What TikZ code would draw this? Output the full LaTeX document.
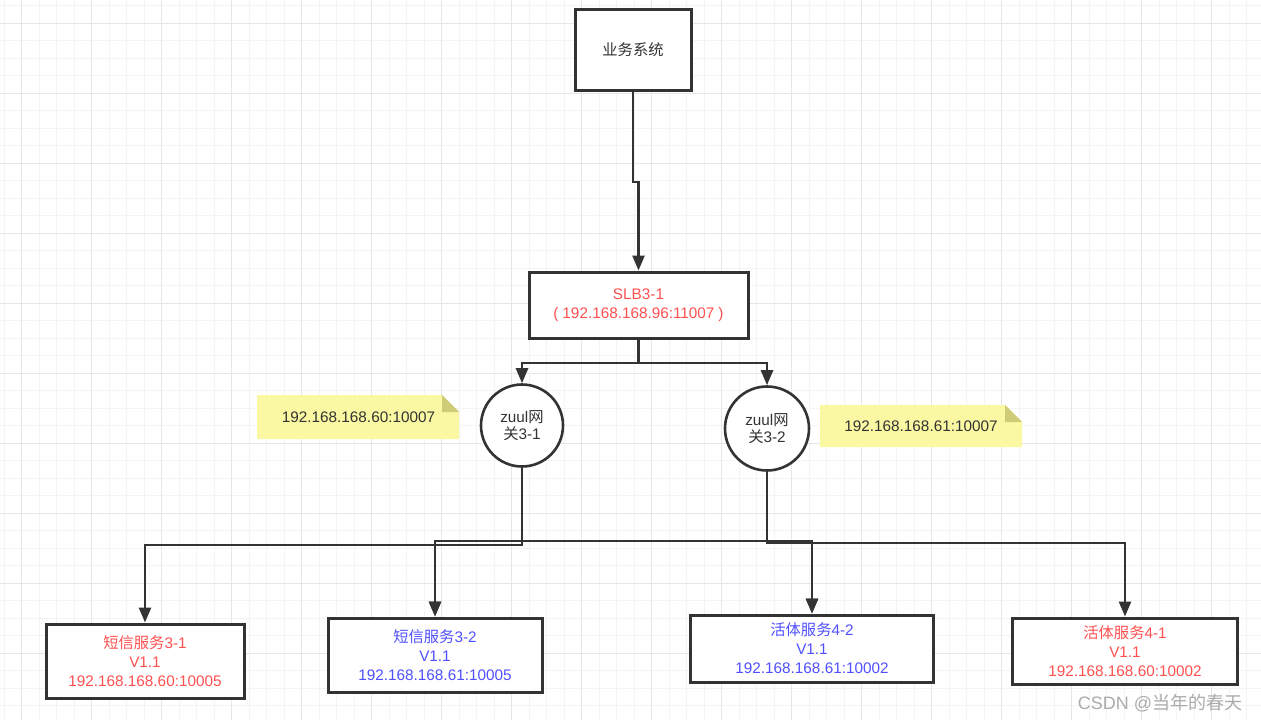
\documentclass[tikz,border=0pt]{standalone}
\usepackage{fontspec}
\setmainfont{Liberation Sans}
\newfontfamily\cjk{Noto Sans CJK SC}
\usetikzlibrary{arrows.meta}
\definecolor{gridminor}{HTML}{F4F4F4}
\definecolor{gridmajor}{HTML}{E6E6E6}
\definecolor{ln}{HTML}{333333}
\definecolor{txt}{HTML}{333333}
\definecolor{redt}{HTML}{FF5050}
\definecolor{bluet}{HTML}{5050FF}
\definecolor{notey}{HTML}{FAF8A2}
\definecolor{notefold}{HTML}{CFCC78}
\definecolor{wm}{HTML}{ABABAB}
\tikzset{
  boxnode/.style={draw=ln, line width=3pt, fill=white, rectangle, inner sep=0pt, align=center,
    font=\fontsize{15.3}{19}\selectfont},
  gwnode/.style={draw=ln, line width=2.6pt, fill=white, circle, inner sep=0pt, align=center,
    text=txt, font=\fontsize{15.3}{17.5}\selectfont},
  notetext/.style={inner sep=0pt, text=txt, font=\fontsize{15.3}{18}\selectfont},
  conn/.style={draw=ln, line width=2.6pt, -{Triangle[length=15pt,width=12pt]}},
}
\begin{document}
\begin{tikzpicture}[x=1pt,y=-1pt]
\useasboundingbox (0,0) rectangle (1261,720);
\fill[white] (0,0) rectangle (1261,720);
% grid
\foreach \i in {0,...,72} \draw[gridminor, line width=1pt] ({4.2+17.5*\i},0) -- ++(0,720);
\foreach \i in {0,...,41} \draw[gridminor, line width=1pt] (0,{5.8+17.5*\i}) -- ++(1261,0);
\foreach \i in {0,...,17} \draw[gridmajor, line width=1pt] ({21.7+70*\i},0) -- ++(0,720);
\foreach \i in {0,...,10} \draw[gridmajor, line width=1pt] (0,{23.3+70*\i}) -- ++(1261,0);

% notes
\fill[notey] (257,395) -- (442,395) -- (459,412) -- (459,439) -- (257,439) -- cycle;
\fill[notefold] (442,395) -- (442,412) -- (459,412) -- cycle;
\node[notetext] (n1) at (358.5,417) {192.168.168.60:10007};
\fill[notey] (820,405) -- (1005,405) -- (1022,422) -- (1022,447) -- (820,447) -- cycle;
\fill[notefold] (1005,405) -- (1005,422) -- (1022,422) -- cycle;
\node[notetext] (n2) at (921,426) {192.168.168.61:10007};

% nodes
\node[boxnode, text=txt, minimum width=116pt, minimum height=81pt] (biz) at (633,49.5) {{\cjk 业务系统}};
\node[boxnode, text=redt, minimum width=219pt, minimum height=66pt] (slb) at (638.5,305)
  {SLB3-1\\(\hspace{4pt}192.168.168.96:11007\hspace{4pt})};
\node[gwnode, minimum size=82pt] (z1) at (522,425.5) {zuul{\cjk 网}\\{\cjk 关}3-1};
\node[gwnode, minimum size=84pt] (z2) at (767,428.5) {zuul{\cjk 网}\\{\cjk 关}3-2};

\node[boxnode, text=redt, minimum width=198pt, minimum height=74pt] (s1) at (145,661)
  {{\cjk 短信服务}3-1\\V1.1\\192.168.168.60:10005};
\node[boxnode, text=bluet, minimum width=214pt, minimum height=74pt] (s2) at (435,655)
  {{\cjk 短信服务}3-2\\V1.1\\192.168.168.61:10005};
\node[boxnode, text=bluet, minimum width=243pt, minimum height=67pt] (h2) at (812,648.5)
  {{\cjk 活体服务}4-2\\V1.1\\192.168.168.61:10002};
\node[boxnode, text=redt, minimum width=225pt, minimum height=66pt] (h1) at (1125,651)
  {{\cjk 活体服务}4-1\\V1.1\\192.168.168.60:10002};

% connectors
\draw[conn] (biz.south) -- (biz.south |- 0,182) -| (slb.north);
\draw[conn] (slb.south) -- (slb.south |- 0,363) -| (z1.north);
\draw[conn] (slb.south) -- (slb.south |- 0,363) -| (z2.north);

\draw[conn] (z1.south) -- (z1.south |- 0,545) -| (s1.north);
\draw[conn] (z1.south) -- (z1.south |- 0,545) -| (s2.north);
\draw[conn] (z1.south) -- (z1.south |- 0,541) -| (h2.north);
\draw[conn] (z2.south) -- (z2.south |- 0,541) -| (s2.north);
\draw[conn] (z2.south) -- (z2.south |- 0,543) -| (h2.north);
\draw[conn] (z2.south) -- (z2.south |- 0,543) -| (h1.north);

% watermark
\node[inner sep=0pt, text=wm, font=\fontsize{18}{20}\selectfont] (wmk) at (1160,703) {CSDN @{\cjk 当年的春天}};
\end{tikzpicture}
\end{document}
